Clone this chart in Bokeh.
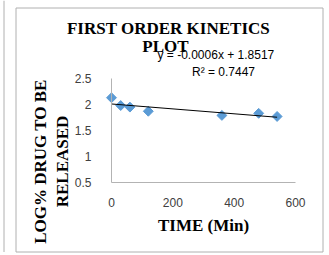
import numpy as np
from bokeh.plotting import figure
from bokeh.models import Label, FixedTicker, Range1d
from bokeh.embed import file_html
from bokeh.resources import INLINE

# ---- data ----
time_min = [0, 30, 60, 120, 360, 480, 540]
log_drug = [2.13, 1.98, 1.95, 1.87, 1.79, 1.83, 1.77]
x_ticks = [0, 200, 400, 600]
y_ticks = [0.5, 1, 1.5, 2, 2.5]
title_lines = ["FIRST ORDER KINETICS", "PLOT"]
equation_text = "y = -0.0006x + 1.8517"
r2_text = "R² = 0.7447"
x_label = "TIME (Min)"
y_label_lines = ["LOG% DRUG TO BE", "RELEASED"]

SERIF = "Liberation Serif"
SANS = "Liberation Sans"

# ---- layout: canvas pixels -> data (frame covers the whole canvas) ----
W, H = 329, 255
AX_X0, AX_X1 = 111, 295      # canvas px of x = 0 and x = 600
AX_Y0, AX_Y1 = 182, 78       # canvas px of y = 0.5 and y = 2.5
XMIN, XMAX = x_ticks[0], x_ticks[-1]
YMIN, YMAX = y_ticks[0], y_ticks[-1]
xs_per_px = (XMAX - XMIN) / (AX_X1 - AX_X0)
ys_per_px = (YMAX - YMIN) / (AX_Y0 - AX_Y1)

def dx(px):
    return XMIN + (px - AX_X0) * xs_per_px

def dy(py):
    return YMIN + (AX_Y0 - py) * ys_per_px

p = figure(width=W, height=H, output_backend="svg", toolbar_location=None,
           x_range=Range1d(dx(0), dx(W)), y_range=Range1d(dy(H), dy(0)),
           min_border=0)
p.outline_line_color = None
p.xgrid.visible = False
p.ygrid.visible = False
p.background_fill_color = "white"
p.border_fill_color = "white"

for ax in (p.xaxis[0], p.yaxis[0]):
    ax.axis_line_color = "#b3b3b3"
    ax.major_tick_line_color = None
    ax.minor_tick_line_color = None
    ax.major_label_text_font = SANS
    ax.major_label_text_font_size = "12px"
    ax.major_label_text_color = "#404040"

p.xaxis.fixed_location = YMIN
p.xaxis.bounds = (XMIN, XMAX)
p.yaxis.fixed_location = XMIN
p.yaxis.bounds = (YMIN, YMAX)
p.xaxis.ticker = FixedTicker(ticks=x_ticks)
p.yaxis.ticker = FixedTicker(ticks=y_ticks)
p.xaxis.major_label_standoff = 9
p.yaxis.major_label_standoff = 14
p.xaxis.axis_label = x_label
p.xaxis.axis_label_text_font = SERIF
p.xaxis.axis_label_text_font_style = "bold"
p.xaxis.axis_label_text_font_size = "17px"
p.xaxis.axis_label_text_color = "black"
p.xaxis.axis_label_standoff = 6

# chart border box and the neighbouring panel's edge
p.quad(left=[dx(15.5)], right=[dx(322.5)], top=[dy(7.5)], bottom=[dy(251.5)],
       fill_color=None, line_color="#b0b0b0", line_width=1, level="underlay")
p.segment(x0=[dx(3.5)], y0=[dy(0)], x1=[dx(3.5)], y1=[dy(251.5)],
          line_color="#b0b0b0", line_width=1, level="underlay")

p.scatter(time_min, log_drug, marker="square", angle=np.pi / 4, size=7,
          color="#5b9bd5")

coef = np.polyfit(time_min, log_drug, 1)
xs = np.array([min(time_min), max(time_min)])
p.line(xs, np.polyval(coef, xs), line_color="black", line_width=1)

def lab(text, px, py, size, font, style="normal", align="center", angle=0.0):
    p.add_layout(Label(x=dx(px), y=dy(py), text=text, text_font=font,
                       text_font_size=size, text_font_style=style,
                       text_align=align, text_baseline="middle",
                       text_color="black", angle=angle))

lab(title_lines[0], 168, 28, "17px", SERIF, "bold")
lab(title_lines[1], 165, 46, "17px", SERIF, "bold")
lab(equation_text, 157, 54, "12px", SANS, align="left")
lab(r2_text, 223, 71, "12px", SANS)
lab(y_label_lines[0], 40, 161, "17px", SERIF, "bold", angle=np.pi / 2)
lab(y_label_lines[1], 62, 161, "17px", SERIF, "bold", angle=np.pi / 2)

open("out.html", "w").write(file_html(p, INLINE))
